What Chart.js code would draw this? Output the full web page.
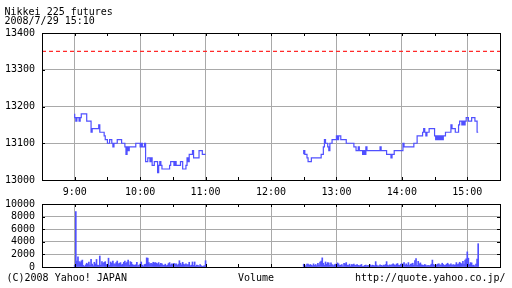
<!DOCTYPE html>
<html>
<head>
<meta charset="utf-8">
<script src="https://cdn.jsdelivr.net/npm/chart.js@4.4.0/dist/chart.umd.min.js"></script>
<style>
  body { margin: 0; background: #fff; }
  #wrap { position: relative; width: 512px; height: 288px; overflow: hidden; background: #fff; }
  .box { position: absolute; left: 0; width: 512px; }
  .txt { position: absolute; font-family: "DejaVu Sans Mono", monospace; font-size: 10px; line-height: 10px; color: #000; white-space: pre; }
</style>
</head>
<body>
<div id="wrap">
  <div class="box" style="top:0;height:200px"><canvas id="priceChart"></canvas></div>
  <div class="box" style="top:190px;height:90px"><canvas id="volumeChart"></canvas></div>
  <div class="txt" style="left:4.5px;top:7px">Nikkei 225 futures</div>
  <div class="txt" style="left:4.5px;top:15.5px">2008/7/29 15:10</div>
  <div class="txt" style="left:6.5px;top:273px">(C)2008 Yahoo! JAPAN</div>
  <div class="txt" style="left:238px;top:273px">Volume</div>
  <div class="txt" style="left:355px;top:273px">http://quote.yahoo.co.jp/</div>
</div>
<script>
// minutes since midnight
const amStart = 540;   // 9:00
const pmStart = 750;   // 12:30
const hourLabels = ["9:00","10:00","11:00","12:00","13:00","14:00","15:00"];
const prevClose = 13350;

// price every minute, 9:00 - 11:00
const amPrice = [
  13180,13170,13160,13170,13170,13160,13170,13180,13180,13180,
  13180,13180,13160,13160,13160,13160,13130,13140,13140,13140,
  13140,13140,13140,13150,13130,13130,13130,13130,13120,13110,
  13110,13100,13100,13110,13110,13100,13090,13100,13100,13100,
  13110,13110,13110,13110,13100,13100,13100,13090,13070,13090,
  13080,13090,13090,13090,13090,13090,13090,13100,13100,13100,
  13100,13090,13100,13090,13090,13100,13050,13050,13060,13060,
  13050,13060,13040,13040,13050,13050,13050,13020,13040,13050,
  13040,13030,13030,13030,13030,13030,13030,13030,13040,13050,
  13050,13050,13040,13050,13040,13040,13040,13040,13050,13050,
  13030,13030,13030,13040,13060,13050,13070,13070,13070,13080,
  13060,13060,13060,13060,13060,13080,13080,13080,13070,13070,
  13070
];

// price every minute, 12:30 - 15:10
const pmPrice = [
  13070,13080,13070,13070,13060,13050,13050,13050,13060,13060,
  13060,13060,13060,13060,13060,13060,13060,13070,13070,13090,
  13110,13100,13100,13090,13080,13100,13100,13110,13110,13110,
  13110,13120,13110,13120,13120,13110,13110,13110,13110,13110,
  13100,13100,13100,13100,13100,13100,13100,13090,13090,13080,
  13080,13090,13080,13080,13080,13070,13080,13070,13090,13080,
  13080,13080,13080,13080,13080,13080,13080,13080,13080,13080,
  13080,13090,13080,13080,13080,13080,13080,13070,13070,13070,
  13070,13060,13070,13070,13080,13080,13080,13080,13080,13080,
  13080,13080,13100,13090,13090,13090,13090,13090,13090,13090,
  13090,13090,13100,13100,13100,13120,13120,13120,13120,13120,
  13130,13140,13130,13120,13130,13130,13140,13140,13140,13140,
  13140,13120,13110,13120,13110,13120,13110,13120,13110,13120,
  13120,13130,13130,13130,13130,13130,13150,13140,13140,13140,
  13130,13130,13130,13150,13160,13160,13150,13160,13150,13160,
  13170,13170,13160,13160,13160,13170,13170,13170,13160,13160,
  13130
];

// volume every minute
const amVolume = [
  300,8800,950,1600,850,700,950,1100,250,100,
  350,600,450,800,300,1200,450,200,750,500,
  1200,300,250,1750,300,850,600,750,850,400,
  400,1400,250,800,600,950,500,450,700,950,
  500,600,700,350,450,750,950,600,800,1100,
  300,850,750,400,300,300,350,750,200,300,
  450,800,300,150,400,450,1450,1400,700,450,
  600,500,750,650,700,600,500,700,350,600,
  500,300,250,450,200,300,550,700,350,500,
  450,600,450,500,250,450,1000,600,350,750,
  450,350,500,350,400,750,200,300,800,250,
  800,150,300,250,100,400,200,100,150,200,
  1000
];

const pmVolume = [
  450,300,100,450,450,250,400,300,200,500,
  250,400,200,600,300,800,950,1450,600,300,
  800,450,700,650,250,650,400,200,350,450,
  150,650,500,250,300,400,150,600,500,700,
  300,250,450,150,400,350,450,250,300,400,
  250,200,300,400,100,150,250,300,150,250,
  100,350,200,300,250,200,850,300,150,200,
  350,250,150,300,250,400,850,300,200,350,
  250,400,500,350,250,450,550,300,250,450,
  500,450,700,300,500,300,700,250,450,500,
  600,300,1000,1350,250,900,500,650,350,300,
  250,400,300,150,250,200,250,450,1100,400,
  300,250,350,450,500,300,350,600,400,250,
  300,450,600,400,300,500,250,400,300,350,
  700,400,500,750,600,450,900,450,1100,1300,
  2400,1400,400,700,650,250,300,150,450,1250,
  3700
];

const toPoints = (arr, start) => arr.map((v, i) => ({ x: start + i, y: v }));

const blue = "#5050ff";
const gridGray = "#a9a9a9";
const monoFont = { family: "DejaVu Sans Mono", size: 10 };

const hourLabel = v => (v % 60 === 0 && v >= 540 && v <= 900) ? hourLabels[v / 60 - 9] : "";
const hourGrid = c => (c.tick && c.tick.value % 60 === 0) ? gridGray : "rgba(0,0,0,0)";

// black frame and short inward ticks
const frameTicks = {
  id: "frameTicks",
  afterDraw(chart) {
    const { ctx, chartArea: a, scales } = chart;
    ctx.save();
    ctx.strokeStyle = "#000";
    ctx.lineWidth = 1;
    ctx.beginPath();
    scales.x.ticks.forEach(t => {
      const px = Math.round(scales.x.getPixelForValue(t.value)) + 0.5;
      ctx.moveTo(px, a.top);
      ctx.lineTo(px, a.top + 3);
      ctx.moveTo(px, a.bottom);
      ctx.lineTo(px, a.bottom - 3);
    });
    scales.y.ticks.forEach(t => {
      const py = Math.round(scales.y.getPixelForValue(t.value)) + 0.5;
      ctx.moveTo(a.left, py);
      ctx.lineTo(a.left + 3, py);
      ctx.moveTo(a.right, py);
      ctx.lineTo(a.right - 3, py);
    });
    ctx.stroke();
    ctx.strokeRect(a.left + 0.5, a.top + 0.5, a.right - a.left, a.bottom - a.top);
    ctx.restore();
  }
};

new Chart(document.getElementById("priceChart"), {
  type: "line",
  data: {
    datasets: [
      {
        data: [{ x: 510, y: prevClose }, { x: 930, y: prevClose }],
        borderColor: "#ff2a2a",
        borderWidth: 1.3,
        borderDash: [4, 3],
        pointRadius: 0
      },
      {
        data: toPoints(amPrice, amStart),
        borderColor: blue,
        borderWidth: 1.2,
        stepped: "after",
        pointRadius: 0
      },
      {
        data: toPoints(pmPrice, pmStart),
        borderColor: blue,
        borderWidth: 1.2,
        stepped: "after",
        pointRadius: 0
      }
    ]
  },
  options: {
    responsive: true,
    maintainAspectRatio: false,
    animation: false,
    events: [],
    layout: { padding: { top: 33, right: 12, left: 0, bottom: 0 } },
    plugins: { legend: { display: false }, tooltip: { enabled: false } },
    scales: {
      x: {
        type: "linear",
        min: 510,
        max: 930,
        afterFit: s => { s.height = 20; },
        border: { display: false },
        grid: { drawTicks: false, offset: false, color: hourGrid },
        ticks: {
          stepSize: 30,
          autoSkip: false,
          maxRotation: 0,
          padding: 6,
          color: "#000",
          font: monoFont,
          callback: hourLabel
        }
      },
      y: {
        min: 13000,
        max: 13400,
        afterFit: s => { s.width = 42; },
        border: { display: false },
        grid: { drawTicks: false, color: gridGray },
        ticks: {
          stepSize: 100,
          autoSkip: false,
          padding: 7,
          color: "#000",
          font: monoFont,
          callback: v => String(v)
        }
      }
    }
  },
  plugins: [frameTicks]
});

new Chart(document.getElementById("volumeChart"), {
  type: "bar",
  data: {
    datasets: [
      {
        data: toPoints(amVolume, amStart).concat(toPoints(pmVolume, pmStart)),
        backgroundColor: blue,
        barThickness: 1
      }
    ]
  },
  options: {
    responsive: true,
    maintainAspectRatio: false,
    animation: false,
    events: [],
    layout: { padding: { top: 14, right: 12, left: 0, bottom: 13 } },
    plugins: { legend: { display: false }, tooltip: { enabled: false } },
    scales: {
      x: {
        type: "linear",
        min: 510,
        max: 930,
        offset: false,
        afterFit: s => { s.height = 0; },
        border: { display: false },
        grid: { drawTicks: false, offset: false, color: hourGrid },
        ticks: { stepSize: 30, autoSkip: false, display: false }
      },
      y: {
        min: 0,
        max: 10000,
        afterFit: s => { s.width = 42; },
        border: { display: false },
        grid: { drawTicks: false, color: gridGray },
        ticks: {
          stepSize: 2000,
          autoSkip: false,
          padding: 7,
          color: "#000",
          font: monoFont,
          callback: v => String(v)
        }
      }
    }
  },
  plugins: [frameTicks]
});
</script>
</body>
</html>
